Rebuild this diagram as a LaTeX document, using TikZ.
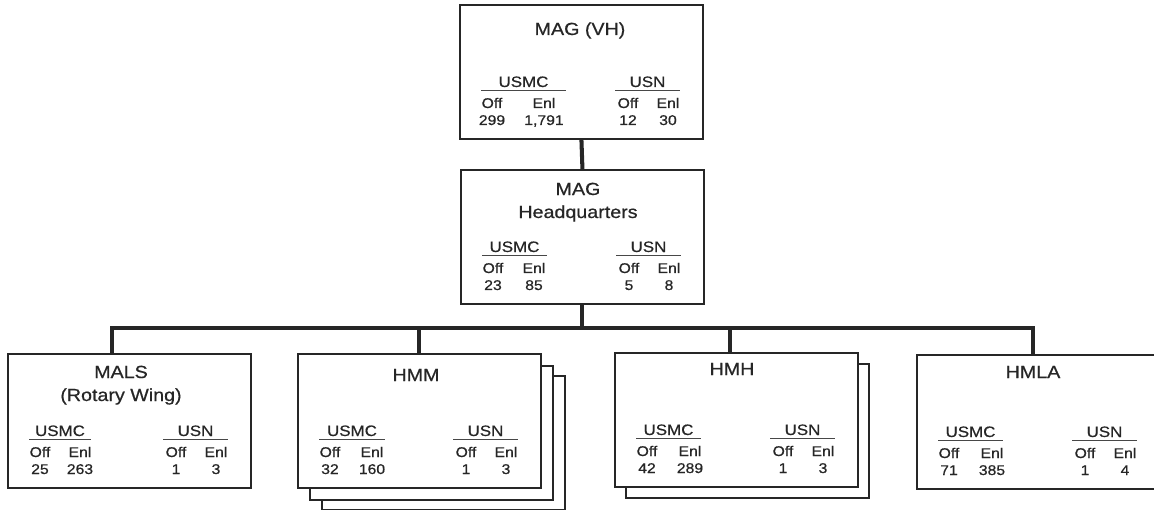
\documentclass[tikz,border=0pt]{standalone}
\usepackage{fontspec}
\setmainfont{Liberation Sans}[FakeStretch=1.12, FakeBold=0.6]
\definecolor{ink}{HTML}{262626}
\tikzset{
  unit/.style={draw=ink, line width=1.1pt, fill=white, anchor=north west,
    minimum width=4.86cm, minimum height=2.68cm, inner sep=0pt},
  link/.style={draw=ink, line width=2.3pt},
  rule/.style={draw=ink!85, line width=0.6pt},
  title/.style={font=\fontsize{10}{12}\selectfont, text=ink, anchor=base, inner sep=0pt},
  head/.style={font=\fontsize{8.6}{10}\selectfont, text=ink, anchor=base, inner sep=0pt},
  cell/.style={font=\fontsize{8}{9}\selectfont, text=ink, anchor=base, inner sep=0pt}
}
\begin{document}
\begin{tikzpicture}[x=0.02cm, y=-0.02cm]
        \useasboundingbox (0,0) rectangle (1154,510);

        % Stacked copies behind HMM and HMH
        \node[unit] (hmm-s2) at (321,375) {};
        \node[unit] (hmm-s1) at (309,365) {};
        \node[unit] (hmh-s1) at (625,363) {};

        % Boxes with USMC / USN strength
        \foreach \n/\L/\T/\E/\R/\a/\b/\c/\d in {top/459/4/85/107/299/{1,791}/12/30,
            hq/460/169/74/87/23/85/5/8, mals/7/353/73/84/25/263/1/3,
            hmm/297/353/75/88/32/160/1/3, hmh/614/352/76/87/42/289/1/3,
            hmla/916/354/76/87/71/385/1/4} {
          \node[unit] (\n) at (\L,\T) {};
          \draw[rule] (\L+22,\T+86.5) -- node[head, midway, yshift=0.07cm] (\n-usmc) {USMC} (\L+\R,\T+86.5);
          \draw[rule] (\L+156,\T+86.5) -- node[head, midway, yshift=0.07cm] (\n-usn) {USN} (\L+221,\T+86.5);
          \node[cell] (\n-off1) at (\L+33,\T+104) {Off};
          \node[cell] (\n-enl1) at (\L+\E,\T+104) {Enl};
          \node[cell] (\n-off1v) at (\L+33,\T+121) {\a};
          \node[cell] (\n-enl1v) at (\L+\E,\T+121) {\b};
          \node[cell] (\n-off2) at (\L+169,\T+104) {Off};
          \node[cell] (\n-enl2) at (\L+209,\T+104) {Enl};
          \node[cell] (\n-off2v) at (\L+169,\T+121) {\c};
          \node[cell] (\n-enl2v) at (\L+209,\T+121) {\d};
        }

        % Titles
        \node[title] (top-t) at (580,35) {MAG (VH)};
        \node[title] (hq-t1) at (578,195) {MAG};
        \node[title] (hq-t2) at (578,218) {Headquarters};
        \node[title] (mals-t1) at (121,378) {MALS};
        \node[title] (mals-t2) at (121,401) {(Rotary Wing)};
        \node[title] (hmm-t) at (416,381) {HMM};
        \node[title] (hmh-t) at (732,375) {HMH};
        \node[title] (hmla-t) at (1033,378) {HMLA};

        % Connectors
        \coordinate (bus-w) at (112,328);
        \coordinate (bus-e) at (1033,328);
        \draw[link] (top.south) -- (hq.north);
        \draw[link] (hq.south) -- (hq.south |- bus-w);
        \draw[link] (mals.north -| bus-w) |- (bus-e) -- (hmla.north -| bus-e);
        \draw[link] (hmm.north) -- (hmm.north |- bus-w);
        \draw[link] ([xshift=-0.12cm]hmh.north) -- ([xshift=-0.12cm]hmh.north |- bus-w);
\end{tikzpicture}
\end{document}
